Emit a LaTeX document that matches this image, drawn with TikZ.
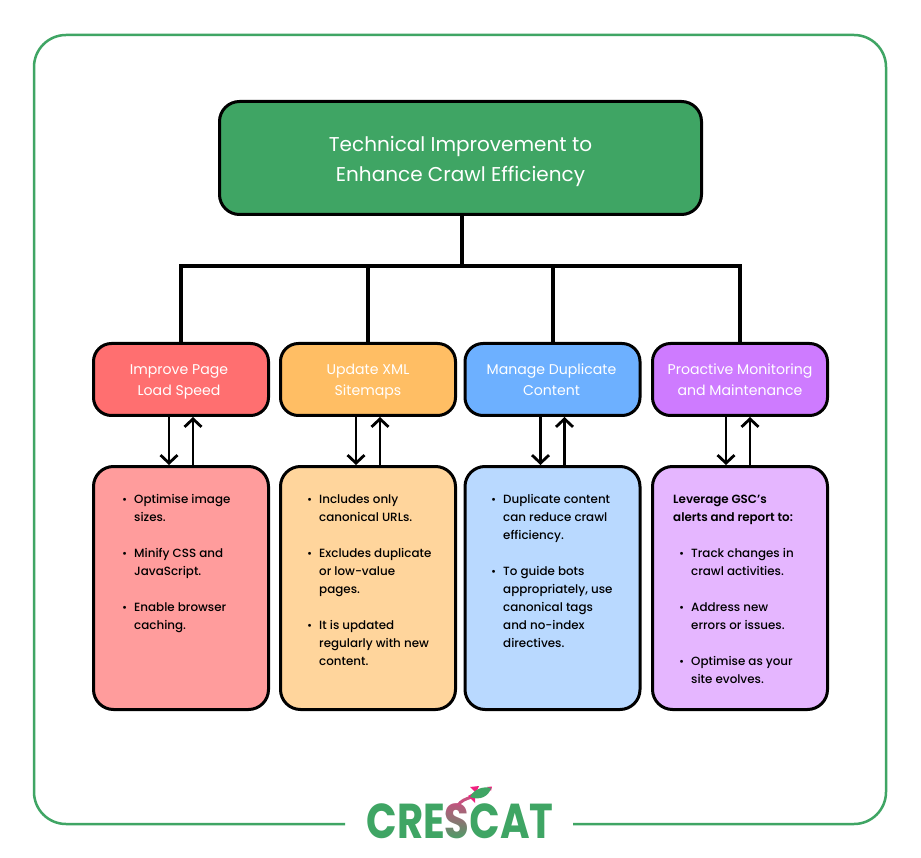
\documentclass[tikz,border=0pt]{standalone}
\usepackage{fontspec}
\setmainfont{Poppins}
\newfontfamily\bodyfont{Poppins Medium}
\newfontfamily\leadfont{Poppins SemiBold}
\usetikzlibrary{arrows.meta}
\definecolor{framegreen}{HTML}{3FA564}
\definecolor{headred}{HTML}{FF6F70}
\definecolor{bodyred}{HTML}{FF9C9C}
\definecolor{headorange}{HTML}{FFBE64}
\definecolor{bodyorange}{HTML}{FFD59C}
\definecolor{headblue}{HTML}{6DB0FF}
\definecolor{bodyblue}{HTML}{B9D9FF}
\definecolor{headpurple}{HTML}{CE7BFF}
\definecolor{bodypurple}{HTML}{E5B6FF}
\definecolor{rocketpink}{HTML}{F0207F}
\definecolor{trailmauve}{HTML}{C8507F}
\newcommand{\bulletline}[1]{\makebox[12pt][l]{\fontsize{11}{11}\selectfont •}#1}
\newcommand{\contline}[1]{\hspace*{12pt}#1}
\newcommand{\logoscale}[1]{\scalebox{0.82}[1]{#1}}
\newcommand{\titlestrut}{\rule{0pt}{27pt}}
\newcommand{\headstrut}{\rule{0pt}{17pt}}
\tikzset{
    title/.style={draw=black,line width=3pt,rounded corners=20pt,fill=framegreen,text=white,
        minimum width=482pt,minimum height=113pt,align=center,
        font=\fontsize{20}{30}\selectfont},
    head/.style={draw=black,line width=3pt,rounded corners=18pt,text=white,
        minimum width=175pt,minimum height=72pt,align=center,
        font=\fontsize{14.1}{21}\selectfont},
    bodybox/.style={draw=black,line width=3pt,rounded corners=20pt,
        minimum width=175pt,minimum height=243pt},
    bodytext/.style={anchor=north west,inner sep=0pt,align=left,
        font=\bodyfont\fontsize{11.9}{18}\selectfont},
    trunk/.style={line width=4pt},
    updown/.style={line width=2.8pt,-{Straight Barb[length=8pt,width=17pt]}},
    logotext/.style={inner sep=0pt,font=\bfseries\fontsize{49}{49}\selectfont}
}
\begin{document}
\begin{tikzpicture}[x=1pt,y=-1pt]
    \useasboundingbox (0,0) rectangle (921,858);
    \fill[white] (0,0) rectangle (921,858);
    % outer frame, open at the bottom for the logo
    \coordinate (gapleft) at (345,824);
    \coordinate (gapright) at (573,824);
    \draw[framegreen,line width=2.5pt,rounded corners=32pt] (gapleft) -- (34,824) -- (34,35) -- (886,35) -- (886,824) -- (gapright);
    % boxes
    \node[title] (main) at (460.5,158) {\titlestrut Technical Improvement to\\Enhance Crawl Efficiency\strut};
    \node[head,fill=headred] (head1) at (181,379.5) {\headstrut Improve Page\hspace*{4pt}\\Load Speed\hspace*{4pt}\strut};
    \node[head,fill=headorange] (head2) at (368,379.5) {\headstrut Update XML\\Sitemaps\strut};
    \node[head,fill=headblue] (head3) at (552.5,379.5) {\headstrut Manage Duplicate\hspace*{2pt}\\Content\hspace*{2pt}\strut};
    \node[head,fill=headpurple] (head4) at (740,379.5) {\headstrut Proactive Monitoring\\and Maintenance\strut};
    \node[bodybox,fill=bodyred] (body1) at (181,588) {};
    \node[bodybox,fill=bodyorange] (body2) at (368,588) {};
    \node[bodybox,fill=bodyblue] (body3) at (552.5,588) {};
    \node[bodybox,fill=bodypurple] (body4) at (740,588) {};
    % texts in the boxes
    \node[bodytext] (text1) at (122,494.5) {\bulletline{Optimise image}\\\contline{sizes.}\\[18pt]
        \bulletline{Minify CSS and}\\\contline{JavaScript.}\\[18pt]
        \bulletline{Enable browser}\\\contline{caching.}};
    \node[bodytext] (text2) at (307,494.5) {\bulletline{Includes only}\\\contline{canonical URLs.}\\[18pt]
        \bulletline{Excludes duplicate}\\\contline{or low-value}\\\contline{pages.}\\[18pt]
        \bulletline{It is updated}\\\contline{regularly with new}\\\contline{content.}};
    \node[bodytext] (text3) at (491,494.5) {\bulletline{Duplicate content}\\\contline{can reduce crawl}\\\contline{efficiency.}\\[18pt]
        \bulletline{To guide bots}\\\contline{appropriately, use}\\\contline{canonical tags}\\\contline{and no-index}\\\contline{directives.}};
    \node[bodytext] (text4) at (673,494.5) {{\leadfont Leverage GSC’s}\\{\leadfont alerts and report to:}\\[18pt]
        \hspace*{6pt}\bulletline{Track changes in}\\\hspace*{6pt}\contline{crawl activities.}\\[18pt]
        \hspace*{6pt}\bulletline{Address new}\\\hspace*{6pt}\contline{errors or issues.}\\[18pt]
        \hspace*{6pt}\bulletline{Optimise as your}\\\hspace*{6pt}\contline{site evolves.}};
    % tree from the title to the heads
    \coordinate (bus) at (462,266);
    \draw[trunk] (main.south -| bus) -- (bus);
    \draw[trunk,line cap=rect] (head1.north) |- (bus);
    \draw[trunk,line cap=rect] (head4.north) |- (bus);
    \draw[trunk] (head2.north) -- (head2.north |- bus);
    \draw[trunk] (head3.north) -- (head3.north |- bus);
    % arrows between heads and bodies
    \draw[updown] ([xshift=-12pt]head1.south) -- ([xshift=-12pt]body1.north);
    \draw[updown] ([xshift=12pt]body1.north) -- ([xshift=12pt]head1.south);
    \draw[updown] ([xshift=-12pt]head2.south) -- ([xshift=-12pt]body2.north);
    \draw[updown] ([xshift=12pt]body2.north) -- ([xshift=12pt]head2.south);
    \draw[updown] ([xshift=-12pt]head3.south) -- ([xshift=-12pt]body3.north);
    \draw[updown] ([xshift=12pt]body3.north) -- ([xshift=12pt]head3.south);
    \draw[updown] ([xshift=-14pt]head4.south) -- ([xshift=-14pt]body4.north);
    \draw[updown] ([xshift=10pt]body4.north) -- ([xshift=10pt]head4.south);
    % logo, the black S shows the gradient through the screen blend
    \node[logotext,text=framegreen,anchor=base] (logo) at (460,838) {\logoscale{CRE\textcolor{black}{S}CAT}};
    \begin{scope}[blend mode=screen]
        \shade[top color=trailmauve,bottom color=framegreen,middle color=framegreen!45!trailmauve] (446.5,800) rectangle (470.5,842);
    \end{scope}
    \draw[trailmauve,line width=3pt] (458,805) .. controls (461,801) and (465,799) .. (472,797);
    \fill[rocketpink] (470,787) -- (479,786) -- (476,793) -- cycle;
    \fill[rocketpink] (468,796) -- (475,792) -- (475,803) -- cycle;
    \fill[rocketpink] (487,787) -- (492,786.5) -- (491,791) -- cycle;
    \fill[framegreen] (470,797) .. controls (474,789) and (483,786) .. (491,788) .. controls (489,796) and (480,801) .. (470,797) -- cycle;
\end{tikzpicture}
\end{document}
